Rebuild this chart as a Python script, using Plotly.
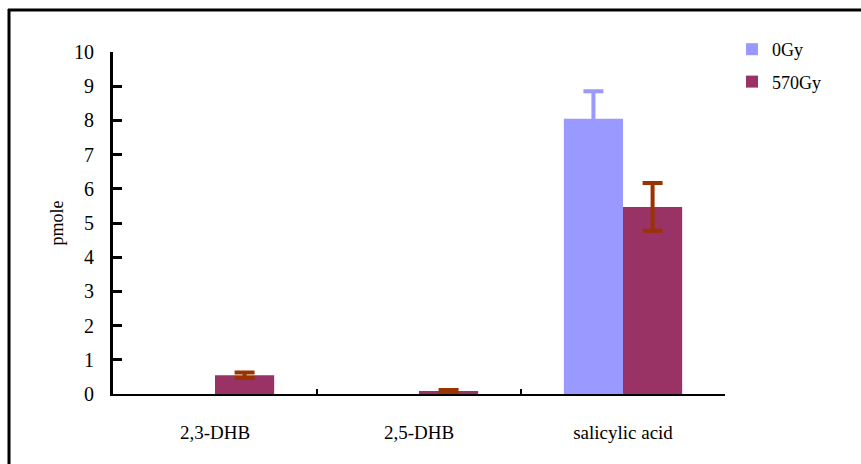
import plotly.graph_objects as go

# Data
categories = ["2,3-DHB", "2,5-DHB", "salicylic acid"]
dose_0gy = [None, None, 8.05]
dose_0gy_err = [None, None, 0.8]
dose_570gy = [0.55, 0.09, 5.47]
dose_570gy_err = [0.08, 0.03, 0.7]
y_ticks = list(range(0, 11))

FONT = "Liberation Serif, Times New Roman, serif"

# Plot area geometry in pixels
W, H = 861, 464
L, R, T, B = 113, 136, 52, 70
pw, ph = W - L - R, H - T - B

def px_x(x):
    return (x - L) / pw

def px_y(y):
    return (H - B - y) / ph

fig = go.Figure()
fig.add_trace(go.Bar(
    x=categories, y=dose_0gy, name="0Gy", legendgroup="a",
    marker=dict(color="#9999FF", line=dict(width=0)),
    error_y=dict(type="data", array=dose_0gy_err,
                 color="#9999FF", thickness=4, width=10, visible=True),
))
fig.add_trace(go.Bar(
    x=categories, y=dose_570gy, name="570Gy", legendgroup="b",
    marker=dict(color="#993366", line=dict(width=0)),
    error_y=dict(type="data", array=dose_570gy_err,
                 color="#993300", thickness=4, width=10, visible=True),
))

# Frame around the figure (top and left edges visible)
fig.add_shape(type="line", xref="paper", yref="paper",
              x0=px_x(9), x1=px_x(9), y0=px_y(9), y1=px_y(480),
              line=dict(color="black", width=3))
fig.add_shape(type="line", xref="paper", yref="paper",
              x0=px_x(8), x1=px_x(880), y0=px_y(10), y1=px_y(10),
              line=dict(color="black", width=3))

fig.update_layout(
    width=W, height=H,
    margin=dict(l=L, r=R, t=T, b=B, pad=0),
    paper_bgcolor="white", plot_bgcolor="white",
    barmode="group", bargap=0.42, bargroupgap=0,
    font=dict(family=FONT, size=18, color="black"),
    legend=dict(x=px_x(732), y=px_y(31), xanchor="left", yanchor="top",
                font=dict(family=FONT, size=18, color="black"),
                tracegroupgap=6, itemwidth=30, bgcolor="rgba(0,0,0,0)"),
    xaxis=dict(
        type="category", showline=True, linecolor="black", linewidth=2,
        ticks="inside", tickson="boundaries", ticklen=5, tickwidth=2, tickcolor="black",
        ticklabelstandoff=20, showgrid=False, zeroline=False,
        tickfont=dict(family=FONT, size=19, color="black"),
    ),
    yaxis=dict(
        range=[0, 10], tickvals=y_ticks, showline=True, linecolor="black", linewidth=3,
        ticks="inside", ticklen=9, tickwidth=3, tickcolor="black",
        ticklabelstandoff=12, showgrid=False, zeroline=False,
        tickfont=dict(family=FONT, size=20, color="black"),
        title=dict(text="pmole", font=dict(family=FONT, size=18, color="black"), standoff=6),
    ),
)

fig.write_html("out.html")
